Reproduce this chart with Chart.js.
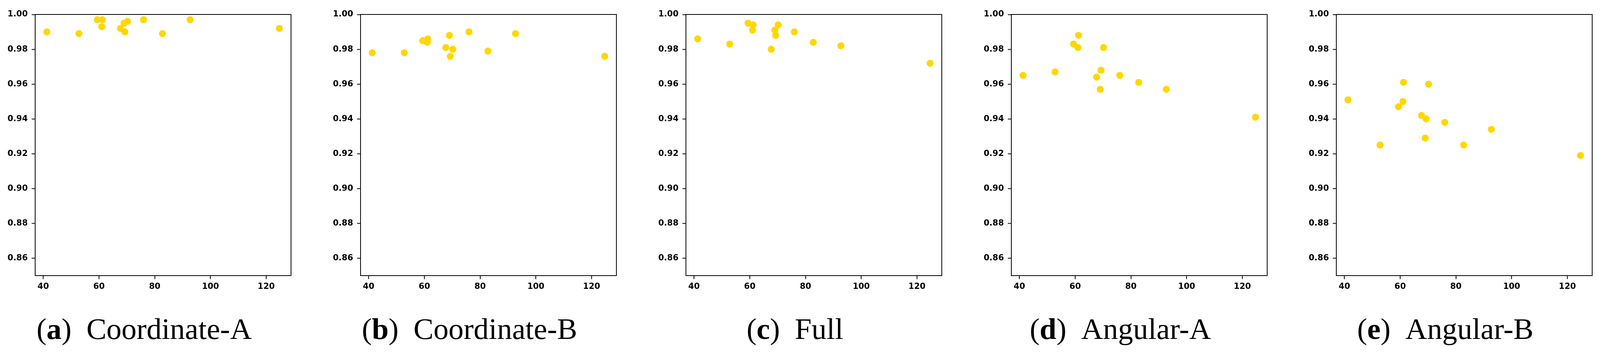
<!DOCTYPE html>
<html>
<head>
<meta charset="utf-8">
<script src="https://cdn.jsdelivr.net/npm/chart.js@4.4.1/dist/chart.umd.min.js"></script>
<style>
  html, body { margin: 0; padding: 0; background: #fff; }
  body { height: 903px; position: relative; overflow: hidden; }
  .panel { position: absolute; top: 0; }
  .caption {
    position: absolute; top: 803px; width: 760px; margin-left: -380px;
    text-align: center; white-space: nowrap; color: #000;
    font-family: "Liberation Serif", serif; font-size: 77px; line-height: 77px;
  }
  .caption .name { margin-left: 38px; }
</style>
</head>
<body>
<script>
// x values shared by every panel
const modelSize = [41.3, 52.8, 59.4, 61.0, 61.2, 67.7, 69.0, 69.3, 70.2, 76.0, 82.8, 92.7, 124.7];

// y values per panel
const coordinateA = [0.990, 0.989, 0.997, 0.993, 0.997, 0.992, 0.995, 0.990, 0.996, 0.997, 0.989, 0.997, 0.992];
const coordinateB = [0.978, 0.978, 0.985, 0.984, 0.986, 0.981, 0.988, 0.976, 0.980, 0.990, 0.979, 0.989, 0.976];
const full        = [0.986, 0.983, 0.995, 0.991, 0.994, 0.980, 0.991, 0.988, 0.994, 0.990, 0.984, 0.982, 0.972];
const angularA    = [0.965, 0.967, 0.983, 0.981, 0.988, 0.964, 0.957, 0.968, 0.981, 0.965, 0.961, 0.957, 0.941];
const angularB    = [0.951, 0.925, 0.947, 0.950, 0.961, 0.942, 0.929, 0.940, 0.960, 0.938, 0.925, 0.934, 0.919];

const panelLetters = ['a', 'b', 'c', 'd', 'e'];
const panelNames = ['Coordinate-A', 'Coordinate-B', 'Full', 'Angular-A', 'Angular-B'];
const panelSeries = [coordinateA, coordinateB, full, angularA, angularB];

const xTicks = [40, 60, 80, 100, 120];
const yTicks = [0.86, 0.88, 0.90, 0.92, 0.94, 0.96, 0.98, 1.00];

// the window can be narrower than the 4168px figure, so squeeze horizontally
const sx = Math.min(1, window.innerWidth / 4168);
document.body.style.width = Math.round(4168 * sx) + 'px';

const axisW = Math.round(92 * sx);
const canvasW = Math.round(767 * sx);
const canvasH = 755;

// box around the plot area, like matplotlib spines
const frame = {
  id: 'frame',
  afterDatasetsDraw(chart) {
    const { ctx, chartArea: a } = chart;
    ctx.save();
    ctx.strokeStyle = '#000';
    ctx.lineWidth = 2;
    ctx.strokeRect(a.left, a.top, a.right - a.left, a.bottom - a.top);
    ctx.restore();
  }
};

const tickFont = { family: 'DejaVu Sans', size: 21, weight: 'bold' };
const tickGrid = { drawOnChartArea: false, drawTicks: true, tickLength: 9, tickWidth: 2, tickColor: '#000' };

panelSeries.forEach((series, i) => {
  const left = Math.round(i * 847.5 * sx);

  const div = document.createElement('div');
  div.className = 'panel';
  div.style.left = left + 'px';
  const canvas = document.createElement('canvas');
  canvas.width = canvasW;
  canvas.height = canvasH;
  div.appendChild(canvas);
  document.body.appendChild(div);

  const cap = document.createElement('div');
  cap.className = 'caption';
  cap.style.left = Math.round(left + 375 * sx) + 'px';
  cap.innerHTML = '(<b>' + panelLetters[i] + '</b>)<span class="name">' + panelNames[i] + '</span>';
  document.body.appendChild(cap);

  new Chart(canvas.getContext('2d'), {
    type: 'scatter',
    data: {
      datasets: [{
        data: modelSize.map((x, k) => ({ x: x, y: series[k] })),
        backgroundColor: '#FFD700',
        borderWidth: 0,
        pointRadius: 9,
        pointHoverRadius: 9,
        clip: false
      }]
    },
    options: {
      responsive: false,
      animation: false,
      devicePixelRatio: 1,
      layout: { padding: { top: 37, right: 3, left: 0, bottom: 0 } },
      plugins: { legend: { display: false }, tooltip: { enabled: false } },
      scales: {
        x: {
          type: 'linear',
          min: 37.1,
          max: 128.9,
          afterBuildTicks: s => { s.ticks = xTicks.map(v => ({ value: v })); },
          afterFit: s => { s.height = 50; },
          border: { display: false },
          grid: tickGrid,
          ticks: { color: '#000', padding: 7, font: tickFont, maxRotation: 0, autoSkip: false, callback: v => String(v) }
        },
        y: {
          type: 'linear',
          min: 0.85,
          max: 1.0,
          afterBuildTicks: s => { s.ticks = yTicks.map(v => ({ value: v })); },
          afterFit: s => { s.width = axisW; },
          border: { display: false },
          grid: tickGrid,
          ticks: { color: '#000', padding: 10, font: tickFont, autoSkip: false, callback: v => v.toFixed(2) }
        }
      }
    },
    plugins: [frame]
  });
});
</script>
</body>
</html>
